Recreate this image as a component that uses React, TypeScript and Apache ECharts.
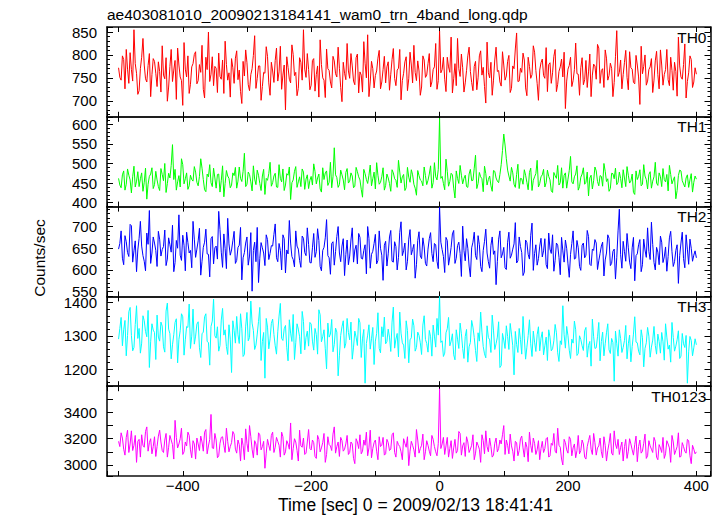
import React, { useEffect, useRef } from 'react';
import * as echarts from 'echarts';

const TITLE = 'ae403081010_20090213184141_wam0_trn_4band_long.qdp';
const X_NAME = 'Time [sec] 0 = 2009/02/13 18:41:41';
const Y_NAME = 'Counts/sec';

const BAND_NAMES = ['TH0', 'TH1', 'TH2', 'TH3', 'TH0123'];
const BAND_COLORS = ['#ff0000', '#00ff00', '#0000ff', '#00ffff', '#ff00ff'];

// time bins: even bins (A) start at -500 s, odd bins (B) at -498 s, both every 4 s
const TIME_START_A = -500;
const TIME_START_B = -498;
const TIME_STEP = 4;

const TH0_A = [
  772, 745, 790, 812, 738, 768, 855, 760, 722, 795, 778, 741, 803, 757, 786,
  731, 764, 820, 748, 699, 775, 742, 788, 815, 752, 690, 769, 798, 736, 781,
  807, 744, 762, 725, 795, 850, 758, 733, 771, 804, 747, 716, 779, 761, 792,
  738, 809, 767, 694, 754, 783, 722, 770, 842, 749, 776, 731, 760, 797, 712,
  765, 788, 743, 819, 756, 680, 773, 739, 801, 762, 727, 784, 855, 751, 768,
  734, 792, 757, 708, 779, 745, 813, 766, 728, 787, 752, 771, 698, 760, 825,
  749, 776, 735, 802, 763, 719, 782, 844, 741, 770, 755, 793, 726, 768, 739,
  785, 758, 814, 733, 771, 702, 760, 796, 748, 778, 821, 744, 765, 730, 789,
  756, 803, 741, 774, 725, 852, 768, 747, 795, 762, 717, 781, 836, 753, 772,
  739, 798, 764, 722, 786, 750, 809, 773, 695, 761, 784, 745, 817, 766, 732,
  778, 754, 799, 727, 770, 848, 743, 762, 789, 711, 775, 757, 806, 738, 767,
  791, 749, 720, 783, 761, 812, 736, 774, 752, 683, 769, 795, 744, 826, 758,
  772, 735, 788, 763, 709, 780, 747, 815, 766, 729, 793, 755, 771, 740, 853,
  762, 726, 784, 751, 807, 769, 737, 778, 692, 759, 800, 743, 774, 718, 787,
  757, 811, 734, 768, 746, 795, 723, 764, 839, 752, 779, 706, 761, 790, 741,
  758,
];
const TH0_B = [
  751, 798, 726, 769, 805, 743, 781, 714, 770, 836, 748, 777, 709, 792, 760,
  785, 719, 756, 794, 730, 812, 767, 703, 778, 744, 827, 752, 716, 774, 801,
  737, 779, 821, 706, 768, 742, 796, 775, 718, 753, 789, 830, 745, 708, 772,
  793, 746, 720, 786, 811, 735, 757, 799, 727, 776, 701, 762, 818, 739, 784,
  740, 815, 763, 725, 778, 796, 747, 822, 755, 711, 794, 745, 769, 803, 724,
  788, 721, 776, 833, 750, 707, 770, 741, 797, 759, 817, 729, 784, 746, 765,
  803, 743, 794, 717, 756, 829, 750, 709, 786, 728, 765, 810, 741, 797, 774,
  723, 790, 749, 767, 812, 744, 785, 722, 806, 739, 762, 787, 712, 798, 751,
  781, 730, 768, 825, 744, 761, 795, 720, 774, 839, 748, 733, 770, 802, 719,
  766, 817, 740, 775, 724, 798, 756, 731, 828, 750, 712, 789, 764, 741, 807,
  745, 786, 718, 776, 813, 742, 771, 804, 728, 795, 749, 820, 766, 701, 783,
  755, 816, 779, 738, 797, 720, 764, 791, 806, 743, 777, 731, 768, 759, 712,
  794, 746, 729, 802, 756, 776, 823, 738, 770, 811, 745, 782, 709, 796, 753,
  789, 757, 810, 724, 772, 740, 799, 752, 819, 775, 734, 768, 792, 745, 808,
  726, 778, 757, 812, 733, 766, 784, 710, 776, 747, 824, 742, 798, 729, 772,
];

const TH1_A = [
  462, 438, 481, 447, 470, 425, 493, 455, 441, 476, 452, 409, 467, 489, 446,
  458, 431, 472, 500, 449, 463, 548, 485, 453, 440, 497, 461, 434, 470, 455,
  478, 443, 512, 459, 428, 466, 451, 488, 437, 473, 456, 415, 482, 462, 445,
  469, 437, 491, 454, 526, 447, 472, 430, 460, 483, 449, 468, 421, 457, 503,
  451, 475, 439, 462, 486, 445, 470, 408, 458, 492, 453, 441, 478, 460, 436,
  467, 499, 448, 473, 427, 459, 481, 452, 438, 540, 464, 446, 471, 433, 487,
  455, 468, 442, 479, 458, 414, 474, 449, 496, 461, 435, 470, 452, 489, 444,
  463, 429, 476, 457, 508, 450, 472, 438, 465, 484, 447, 419, 469, 455, 491,
  446, 473, 437, 502, 458, 615, 467, 433, 480, 454, 471, 412, 462, 495, 448,
  470, 439, 485, 457, 521, 449, 466, 428, 474, 459, 443, 482, 463, 451, 497,
  575, 512, 468, 490, 447, 472, 436, 461, 484, 452, 477, 431, 466, 508, 449,
  471, 440, 483, 458, 426, 469, 495, 451, 437, 476, 460, 518, 448, 473, 432,
  465, 489, 452, 417, 470, 456, 481, 443, 467, 500, 454, 429, 475, 461, 446,
  478, 438, 463, 492, 450, 473, 421, 459, 484, 447, 468, 435, 479, 455, 503,
  444, 466, 487, 453, 430, 472, 458, 410, 469, 481, 448, 463, 439, 474, 452,
  460,
];
const TH1_B = [
  445, 471, 432, 486, 458, 466, 440, 479, 461, 429, 488, 447, 473, 436, 480,
  441, 487, 456, 426, 475, 495, 459, 432, 469, 512, 448, 476, 443, 459, 492,
  452, 467, 488, 433, 473, 497, 441, 463, 472, 427, 494, 449, 468, 438, 476,
  490, 455, 462, 480, 441, 478, 453, 494, 446, 470, 431, 485, 462, 474, 442,
  468, 440, 497, 453, 431, 474, 491, 451, 480, 439, 466, 486, 434, 471, 457,
  445, 480, 463, 435, 489, 476, 444, 503, 466, 471, 439, 483, 458, 477, 450,
  476, 438, 490, 466, 434, 485, 459, 470, 443, 478, 502, 447, 466, 432, 473,
  449, 484, 461, 439, 478, 466, 431, 490, 452, 471, 437, 482, 458, 443, 469,
  457, 494, 451, 466, 485, 462, 449, 511, 442, 475, 437, 481, 449, 470, 462,
  441, 473, 456, 488, 436, 477, 461, 493, 445, 468, 429, 480, 455, 472, 533,
  547, 483, 455, 476, 439, 498, 462, 447, 470, 433, 488, 457, 474, 440, 466,
  485, 451, 467, 430, 477, 462, 445, 489, 470, 437, 482, 453, 466, 494, 441,
  473, 447, 478, 463, 435, 491, 454, 469, 442, 480, 461, 436, 474, 488, 452,
  462, 484, 441, 470, 455, 426, 481, 467, 443, 497, 459, 472, 437, 466, 450,
  476, 441, 459, 472, 495, 448, 466, 431, 483, 456, 440, 471, 458, 427, 468,
];

const TH2_A = [
  648, 690, 612, 665, 631, 702, 644, 596, 673, 655, 620, 685, 737, 639, 662,
  608, 671, 647, 692, 625, 658, 703, 617, 650, 634, 680, 598, 663, 645, 712,
  629, 667, 588, 652, 694, 636, 672, 614, 655, 735, 641, 683, 603, 660, 646,
  689, 622, 657, 577, 640, 676, 632, 551, 664, 698, 627, 651, 610, 670, 638,
  655, 706, 619, 645, 681, 593, 637, 662, 624, 690, 648, 606, 673, 633, 659,
  616, 684, 642, 668, 598, 652, 716, 628, 661, 611, 677, 639, 655, 587, 669,
  632, 697, 646, 614, 675, 625, 658, 700, 604, 643, 682, 622, 650, 576, 666,
  637, 691, 618, 654, 629, 711, 644, 600, 671, 635, 659, 612, 688, 626, 653,
  609, 672, 638, 661, 620, 745, 647, 594, 668, 630, 683, 615, 656, 638, 701,
  621, 650, 584, 664, 633, 679, 608, 645, 694, 619, 657, 636, 566, 671, 628,
  652, 601, 687, 634, 660, 616, 676, 640, 595, 663, 625, 708, 638, 611, 655,
  630, 672, 603, 648, 681, 622, 657, 589, 644, 669, 614, 636, 690, 627, 651,
  599, 662, 634, 677, 610, 645, 662, 621, 655, 586, 639, 673, 615, 648, 628,
  740, 604, 642, 684, 618, 651, 575, 637, 670, 612, 646, 697, 624, 659, 600,
  641, 678, 617, 653, 631, 689, 608, 645, 569, 662, 626, 681, 613, 650, 634,
  628,
];
const TH2_B = [
  661, 627, 679, 640, 705, 618, 667, 646, 712, 633, 598, 659, 615, 676, 645,
  689, 632, 654, 610, 674, 641, 596, 668, 727, 622, 657, 687, 639, 605, 671,
  648, 696, 620, 664, 637, 584, 677, 651, 625, 693, 606, 649, 719, 634, 667,
  615, 652, 698, 628, 662, 611, 686, 645, 619, 571, 663, 639, 681, 624, 656,
  682, 628, 661, 600, 672, 646, 714, 631, 607, 655, 622, 678, 640, 697, 617,
  651, 629, 695, 608, 645, 674, 633, 590, 665, 642, 700, 619, 672, 636, 612,
  669, 618, 657, 684, 627, 645, 591, 673, 636, 661, 614, 690, 634, 657, 609,
  676, 620, 665, 600, 686, 633, 662, 620, 693, 647, 581, 668, 632, 674, 615,
  648, 686, 619, 658, 603, 664, 631, 675, 611, 652, 691, 627, 664, 585, 645,
  672, 609, 651, 687, 624, 658, 596, 666, 639, 604, 676, 644, 619, 690, 637,
  605, 664, 627, 648, 709, 621, 654, 587, 669, 636, 680, 599, 658, 626, 673,
  644, 612, 685, 638, 597, 662, 629, 675, 618, 650, 583, 661, 625, 668, 608,
  657, 628, 691, 613, 648, 670, 601, 638, 664, 623, 681, 610, 643, 579, 690,
  635, 666, 620, 651, 603, 675, 633, 658, 596, 671, 629, 643, 710, 617, 652,
  612, 664, 630, 597, 674, 642, 619, 658, 633, 687, 605, 648, 671, 620, 644,
];

const TH3_A = [
  1290, 1355, 1318, 1240, 1372, 1301, 1265, 1390, 1322, 1278, 1345, 1297, 1205, 1336, 1310,
  1362, 1284, 1329, 1251, 1398, 1306, 1273, 1340, 1219, 1315, 1357, 1288, 1325, 1262, 1380,
  1299, 1342, 1235, 1311, 1366, 1280, 1328, 1410, 1293, 1254, 1347, 1302, 1268, 1333, 1190,
  1316, 1358, 1277, 1321, 1244, 1370, 1295, 1338, 1259, 1305, 1385, 1283, 1173, 1326, 1291,
  1350, 1270, 1312, 1397, 1286, 1331, 1225, 1308, 1364, 1279, 1320, 1246, 1343, 1295, 1269,
  1335, 1257, 1304, 1378, 1282, 1318, 1201, 1296, 1349, 1274, 1311, 1240, 1327, 1263, 1352,
  1288, 1230, 1314, 1271, 1339, 1293, 1158, 1302, 1260, 1325, 1284, 1369, 1249, 1297, 1276,
  1320, 1253, 1386, 1290, 1237, 1308, 1272, 1345, 1219, 1294, 1330, 1265, 1301, 1244, 1360,
  1277, 1316, 1239, 1299, 1352, 1418, 1285, 1248, 1321, 1270, 1306, 1228, 1290, 1338, 1262,
  1298, 1221, 1280, 1326, 1256, 1309, 1371, 1268, 1234, 1295, 1250, 1317, 1276, 1342, 1211,
  1287, 1330, 1259, 1305, 1183, 1274, 1322, 1245, 1293, 1266, 1348, 1238, 1281, 1303, 1255,
  1312, 1270, 1226, 1296, 1261, 1334, 1249, 1285, 1390, 1263, 1300, 1232, 1278, 1318, 1247,
  1289, 1256, 1325, 1271, 1209, 1297, 1264, 1340, 1283, 1240, 1309, 1258, 1292, 1164, 1276,
  1318, 1250, 1286, 1231, 1302, 1268, 1357, 1279, 1243, 1294, 1262, 1325, 1236, 1287, 1271,
  1305, 1248, 1282, 1336, 1260, 1221, 1295, 1269, 1315, 1239, 1276, 1301, 1252, 1286, 1264,
  1273,
];
const TH3_B = [
  1322, 1270, 1346, 1301, 1385, 1255, 1334, 1292, 1248, 1360, 1313, 1376, 1282, 1317, 1229,
  1296, 1341, 1267, 1374, 1320, 1231, 1303, 1351, 1289, 1366, 1242, 1328, 1395, 1299, 1275,
  1335, 1264, 1306, 1357, 1283, 1212, 1344, 1300, 1327, 1271, 1382, 1318, 1244, 1290, 1345,
  1278, 1303, 1366, 1238, 1329, 1285, 1404, 1316, 1272, 1343, 1226, 1310, 1352, 1261, 1337,
  1304, 1245, 1359, 1292, 1321, 1264, 1348, 1283, 1229, 1336, 1297, 1373, 1258, 1314, 1340,
  1284, 1322, 1245, 1363, 1297, 1261, 1338, 1305, 1252, 1323, 1180, 1301, 1345, 1278, 1310,
  1341, 1266, 1296, 1352, 1235, 1319, 1277, 1333, 1291, 1214, 1307, 1262, 1327, 1356, 1283,
  1296, 1341, 1263, 1307, 1371, 1279, 1232, 1316, 1288, 1350, 1254, 1311, 1279, 1332, 1289,
  1251, 1297, 1332, 1266, 1302, 1280, 1238, 1309, 1355, 1284, 1243, 1318, 1262, 1306, 1232,
  1319, 1267, 1346, 1295, 1223, 1284, 1311, 1246, 1330, 1288, 1362, 1259, 1296, 1205, 1307,
  1262, 1298, 1337, 1270, 1313, 1250, 1289, 1358, 1230, 1301, 1276, 1314, 1253, 1327, 1293,
  1243, 1296, 1318, 1255, 1285, 1309, 1223, 1274, 1303, 1328, 1257, 1290, 1344, 1241, 1300,
  1270, 1315, 1236, 1283, 1350, 1262, 1297, 1225, 1311, 1276, 1336, 1247, 1280, 1314, 1239,
  1292, 1265, 1331, 1276, 1222, 1305, 1281, 1254, 1318, 1207, 1279, 1299, 1266, 1328, 1245,
  1283, 1310, 1227, 1296, 1272, 1340, 1254, 1288, 1232, 1307, 1265, 1158, 1298, 1240, 1291,
];

const TH0123_A = [
  3180, 3245, 3120, 3210, 3095, 3260, 3150, 3020, 3195, 3230, 3135, 3290, 3170, 3085, 3215,
  3140, 3265, 3110, 3190, 3060, 3225, 3155, 3340, 3130, 3200, 3080, 3175, 3250, 3115, 3185,
  3045, 3160, 3220, 3105, 3270, 3145, 3385, 3125, 3190, 3070, 3210, 3150, 3280, 3100, 3170,
  3235, 3090, 3155, 3205, 3040, 3165, 3300, 3120, 3185, 3075, 3230, 3140, 2975, 3195, 3110,
  3250, 3135, 3180, 3060, 3215, 3100, 3160, 3320, 3125, 3175, 3030, 3145, 3205, 3090, 3270,
  3115, 3170, 3050, 3195, 3130, 3240, 3080, 3155, 3110, 3290, 3140, 3065, 3185, 3120, 3225,
  3095, 3160, 3010, 3175, 3230, 3105, 3150, 3070, 3265, 3125, 3190, 3040, 3140, 3210, 3085,
  3170, 3120, 3245, 3060, 3155, 3100, 3200, 3135, 2995, 3180, 3115, 3270, 3090, 3150, 3040,
  3185, 3105, 3225, 3140, 3070, 3580, 3160, 3080, 3210, 3125, 3050, 3195, 3110, 3240, 3145,
  3065, 3175, 3120, 3230, 3090, 3150, 3020, 3185, 3260, 3100, 3140, 3075, 3205, 3125, 3160,
  3300, 3190, 3085, 3145, 3030, 3170, 3110, 3220, 3060, 3135, 3250, 3095, 3165, 3115, 3040,
  3180, 3125, 3210, 3070, 3150, 3105, 3280, 3135, 3000, 3170, 3090, 3195, 3130, 3055, 3225,
  3110, 3160, 3045, 3185, 3120, 3240, 3075, 3145, 3100, 3215, 3030, 3165, 3090, 3260, 3125,
  3080, 3175, 3140, 3050, 3200, 3115, 3155, 3025, 3190, 3105, 3235, 3070, 3145, 3095, 3180,
  3040, 3130, 3210, 3085, 3160, 3020, 3175, 3110, 3245, 3065, 3140, 3090, 3185, 3010, 3120,
  3100,
];
const TH0123_B = [
  3140, 3205, 3075, 3265, 3160, 3110, 3225, 3180, 3060, 3150, 3255, 3105, 3200, 3140, 3065,
  3220, 3175, 3095, 3240, 3135, 3190, 3045, 3210, 3160, 3280, 3100, 3145, 3225, 3055, 3160,
  3205, 3110, 3175, 3250, 3085, 3195, 3130, 3240, 3055, 3165, 3215, 3095, 3180, 3140, 3255,
  3120, 3190, 3030, 3150, 3275, 3100, 3215, 3055, 3160, 3245, 3115, 3180, 3090, 3150, 3225,
  3095, 3210, 3150, 3250, 3075, 3185, 3120, 3040, 3200, 3110, 3265, 3135, 3080, 3175, 3125,
  3190, 3065, 3225, 3100, 3170, 3020, 3215, 3145, 3235, 3090, 3175, 3210, 3105, 3160, 3080,
  3175, 3050, 3200, 3125, 3085, 3190, 3250, 3130, 3055, 3170, 3105, 3215, 3150, 3075, 3195,
  3110, 3230, 3095, 3180, 3140, 3040, 3165, 3215, 3105, 3150, 3060, 3190, 3125, 3235, 3100,
  3150, 3070, 3195, 3100, 3165, 3125, 3210, 3145, 3060, 3185, 3130, 3090, 3255, 3075, 3170,
  3215, 3095, 3150, 3040, 3175, 3120, 3230, 3085, 3140, 3205, 3060, 3165, 3100, 3190, 3230,
  3080, 3150, 3235, 3105, 3180, 3070, 3200, 3130, 3175, 3025, 3150, 3205, 3080, 3185, 3125,
  3095, 3200, 3060, 3165, 3240, 3090, 3150, 3045, 3195, 3115, 3215, 3070, 3160, 3110, 3085,
  3190, 3060, 3140, 3225, 3080, 3170, 3130, 3205, 3055, 3150, 3110, 3240, 3075, 3160, 3195,
  3135, 3030, 3195, 3105, 3160, 3075, 3220, 3140, 3090, 3165, 3050, 3185, 3120, 3210, 3060,
  3155, 3095, 3050, 3185, 3130, 3225, 3080, 3140, 3060, 3170, 3105, 3195, 3070, 3150, 3085,
];

const BAND_VALUES_A = [TH0_A, TH1_A, TH2_A, TH3_A, TH0123_A];
const BAND_VALUES_B = [TH0_B, TH1_B, TH2_B, TH3_B, TH0123_B];

// axis ranges and tick settings
const X_MIN = -518;
const X_MAX = 422;
const X_LABEL_STEP = 200;
const Y_MINS = [665, 390, 539, 1149, 2916];
const Y_MAXS = [861, 619, 746, 1418, 3600];
const Y_SPLITS = [4, 5, 4, 3, 7];
const Y_MINOR_SPLITS = [5, 5, 5, 5, 0];
const Y_LABEL_STEPS = [50, 50, 50, 100, 200];

const FONT = "'Liberation Sans', Arial, Helvetica, sans-serif";
const GRID_LEFT = 107;
const GRID_RIGHT = 12.5;
const GRID_TOP = 27;
const PANEL_H = 89.8;
const RIGHT_EDGE = 723 - GRID_RIGHT;

const fmtNum = (v: number) => (v < 0 ? '\u2212' + Math.abs(v) : String(v));

function mergeBins(a: number[], b: number[]) {
  const out: number[][] = [];
  for (let k = 0; k < a.length; k++) {
    out.push([TIME_START_A + k * TIME_STEP, a[k]]);
    if (k < b.length) out.push([TIME_START_B + k * TIME_STEP, b[k]]);
  }
  return out;
}

function buildOption() {
  const grid: any[] = [];
  const xAxis: any[] = [];
  const yAxis: any[] = [];
  const series: any[] = [];
  const graphic: any[] = [];

  const axisLine = { show: true, onZero: false, lineStyle: { color: '#111', width: 1.6 } };
  const tickStyle = { color: '#000', width: 1 };

  BAND_NAMES.forEach((name, i) => {
    const top = GRID_TOP + i * PANEL_H;
    grid.push({ left: GRID_LEFT, right: GRID_RIGHT, top, height: PANEL_H, containLabel: false, outerBoundsMode: 'none' });

    const xBase = {
      gridIndex: i,
      type: 'value',
      min: X_MIN,
      max: X_MAX,
      splitNumber: 9,
      splitLine: { show: false },
      axisLine,
      axisTick: { show: true, inside: true, length: 5, lineStyle: tickStyle },
    };
    xAxis.push({
      ...xBase,
      position: 'bottom',
      axisLabel: {
        show: i === BAND_NAMES.length - 1,
        margin: 2,
        color: '#000',
        fontSize: 15,
        fontFamily: FONT,
        formatter: (v: number) => (v % X_LABEL_STEP === 0 && v > X_MIN && v < X_MAX ? fmtNum(v) : ''),
      },
    });
    xAxis.push({ ...xBase, position: 'top', axisLabel: { show: false } });

    const ymin = Y_MINS[i];
    const ymax = Y_MAXS[i];
    const step = Y_LABEL_STEPS[i];
    const yBase = {
      gridIndex: i,
      type: 'value',
      min: ymin,
      max: ymax,
      splitNumber: Y_SPLITS[i],
      scale: true,
      splitLine: { show: false },
      axisLine,
      axisTick: { show: true, inside: true, length: 6, lineStyle: tickStyle },
      minorTick: {
        show: Y_MINOR_SPLITS[i] > 0,
        splitNumber: Y_MINOR_SPLITS[i] || 5,
        length: 3,
        lineStyle: tickStyle,
      },
    };
    yAxis.push({
      ...yBase,
      position: 'left',
      axisLabel: {
        show: true,
        margin: 10,
        color: '#000',
        fontSize: 15,
        fontFamily: FONT,
        formatter: (v: number) => (v % step === 0 && v > ymin && v < ymax ? fmtNum(v) : ''),
      },
    });
    yAxis.push({ ...yBase, position: 'right', axisLabel: { show: false } });

    series.push({
      type: 'line',
      name,
      xAxisIndex: 2 * i,
      yAxisIndex: 2 * i,
      data: mergeBins(BAND_VALUES_A[i], BAND_VALUES_B[i]),
      showSymbol: false,
      symbol: 'none',
      clip: true,
      lineStyle: { color: BAND_COLORS[i], width: 1 },
      itemStyle: { color: BAND_COLORS[i] },
    });

    graphic.push({
      type: 'text',
      x: RIGHT_EDGE - 4,
      y: top + 2,
      style: {
        text: name,
        fill: '#000',
        font: `15.5px ${FONT}`,
        textAlign: 'right',
        textVerticalAlign: 'top',
      },
      z: 100,
    });
  });

  graphic.push({
    type: 'text',
    x: 107,
    y: 14.5,
    style: { text: TITLE, fill: '#000', font: `15.5px ${FONT}`, textAlign: 'left', textVerticalAlign: 'middle' },
  });
  graphic.push({
    type: 'text',
    x: 415.5,
    y: 504.5,
    style: { text: X_NAME, fill: '#000', font: `17.5px ${FONT}`, textAlign: 'center', textVerticalAlign: 'middle' },
  });
  graphic.push({
    type: 'text',
    x: 39,
    y: 258,
    rotation: Math.PI / 2,
    style: { text: Y_NAME, fill: '#000', font: `15.5px ${FONT}`, textAlign: 'center', textVerticalAlign: 'middle' },
  });

  return {
    animation: false,
    backgroundColor: '#ffffff',
    grid,
    xAxis,
    yAxis,
    series,
    graphic,
  };
}

export default function App() {
  const ref = useRef<HTMLDivElement>(null);
  useEffect(() => {
    if (!ref.current) return;
    const chart = echarts.init(ref.current, undefined, { renderer: 'svg' });
    chart.setOption(buildOption() as any);
    return () => chart.dispose();
  }, []);
  return (
    <div
      ref={ref}
      style={{ position: 'fixed', left: 0, top: 0, width: 723, height: 516, background: '#fff' }}
    />
  );
}
